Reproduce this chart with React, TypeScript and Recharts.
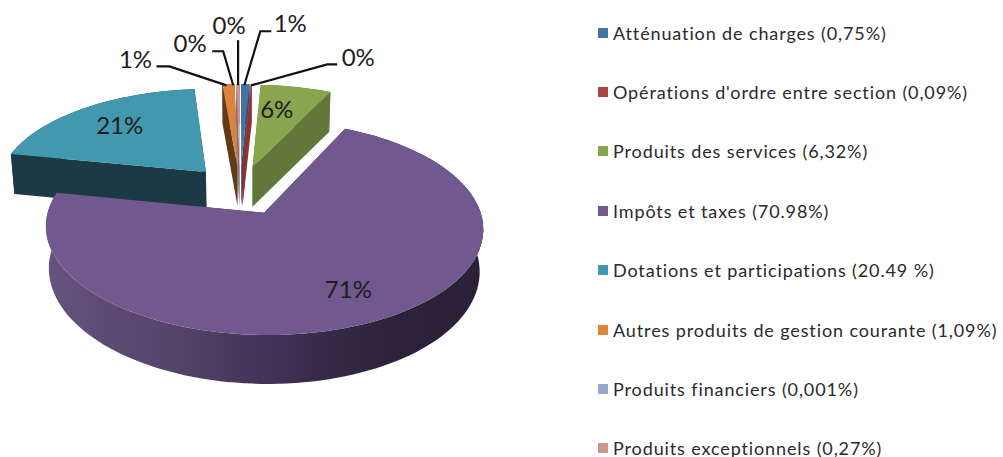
import React from 'react';
import { PieChart, Pie, Legend } from 'recharts';

const categories = [
  "Atténuation de charges (0,75%)",
  "Opérations d'ordre entre section (0,09%)",
  "Produits des services (6,32%)",
  "Impôts et taxes (70.98%)",
  "Dotations et participations (20.49 %)",
  "Autres produits de gestion courante (1,09%)",
  "Produits financiers (0,001%)",
  "Produits exceptionnels (0,27%)",
];
const shares = [0.75, 0.09, 6.32, 70.98, 20.49, 1.09, 0.001, 0.27];
const sliceLabels = ['1%', '0%', '6%', '71%', '21%', '1%', '0%', '0%'];
const topColors = ['#4572A7', '#AA4643', '#89A54E', '#71588F', '#4198AF', '#DB843D', '#93A9CF', '#D19392'];
const sideColors = ['#2c4a6e', '#8a3533', '#62773a', 'url(#purpleWall)', '#1b3a46', '#5f3b1a', '#6a7a96', '#9a6b6a'];

const data = categories.map((name, i) => ({ name, value: shares[i] }));

// 3D view of the pie plane
const PERSPECTIVE = 0.135;
const SQUASH = 0.471;
const EXPLODE = 0.25;
const PURPLE = 3;
const RAD = Math.PI / 180;

type Pt = [number, number];
const project = (cx: number, cy: number, r: number, U: number, V: number): Pt => {
  const s = 1 / (1 - PERSPECTIVE * V);
  return [cx + r * U * s, cy + r * SQUASH * V * s];
};
const planePoint = (mid: number, a: number, f: number): [number, number] => [
  EXPLODE * Math.cos(mid * RAD) + f * Math.cos(a * RAD),
  -EXPLODE * Math.sin(mid * RAD) - f * Math.sin(a * RAD),
];
const dropPoint = (cx: number, cy: number, r: number, U: number, V: number): Pt => {
  const s = 1 / (1 - PERSPECTIVE * V);
  const [x, y] = project(cx, cy, r, U, V);
  return [cx + 3 + (x - cx - 3) * 0.985, y + 40 + Math.max(0, s - 1) * 45];
};
const toPath = (pts: Pt[]) => 'M' + pts.map((p) => `${p[0].toFixed(1)},${p[1].toFixed(1)}`).join('L') + 'Z';

const Slice3D = (props: any) => {
  const { cx, cy, outerRadius: r, startAngle, endAngle, index } = props;
  const mid = (startAngle + endAngle) / 2;
  const steps = Math.max(2, Math.ceil(Math.abs(endAngle - startAngle) / 2));
  const rim: [number, number][] = [];
  for (let i = 0; i <= steps; i++) {
    rim.push(planePoint(mid, startAngle + ((endAngle - startAngle) * i) / steps, 1));
  }
  const apex = planePoint(mid, mid, 0);
  const P = (q: [number, number]) => project(cx, cy, r, q[0], q[1]);
  const D = (q: [number, number]) => dropPoint(cx, cy, r, q[0], q[1]);
  const side = sideColors[index];
  const wall = (a: [number, number], b: [number, number]) => toPath([P(a), P(b), D(b), D(a)]);
  return (
    <g>
      <path d={toPath([...rim.map(P), ...rim.slice().reverse().map(D)])} fill={side} />
      <path d={wall(apex, rim[0])} fill={index === PURPLE ? '#3c2c50' : side} />
      <path d={wall(apex, rim[rim.length - 1])} fill={index === PURPLE ? '#3c2c50' : side} />
      <path d={toPath([P(apex), ...rim.map(P)])} fill={topColors[index]} />
    </g>
  );
};

const BackSlices = (props: any) => (props.index === PURPLE ? <g /> : <Slice3D {...props} />);
const FrontSlice = (props: any) => (props.index === PURPLE ? <Slice3D {...props} /> : <g />);

// inner labels: radial fraction and nudge; outer labels: leader offsets from the rim
const innerLabel: Record<number, { f: number; dx: number; dy: number }> = {
  2: { f: 0.69, dx: -7, dy: -1 },
  3: { f: 0.75, dx: 2, dy: -2 },
  4: { f: 0.7, dx: 1, dy: -2 },
};
const leaders: Record<number, { path: Pt[]; text: Pt }> = {
  0: { path: [[-1, 1], [15, -53], [26, -53]], text: [45, -62] },
  1: { path: [[0, 1], [76, -20], [86, -20]], text: [107, -28] },
  5: { path: [[-2, 1], [-59, -18], [-72, -18]], text: [-93, -26] },
  6: { path: [[-3, 1], [-13, -33], [-24, -33]], text: [-46, -42] },
  7: { path: [[0, 1], [0, -44]], text: [-9, -60] },
};

const SliceLabel = (props: any) => {
  const { cx, cy, outerRadius: r, midAngle, index } = props;
  const textProps = {
    textAnchor: 'middle' as const,
    dominantBaseline: 'central' as const,
    fontFamily: 'Lato, sans-serif',
    fontSize: 24,
    fill: '#1c1c1c',
  };
  const inner = innerLabel[index];
  if (inner) {
    const q = planePoint(midAngle, midAngle, inner.f);
    const [x, y] = project(cx, cy, r, q[0], q[1]);
    return <text x={x + inner.dx} y={y + inner.dy} {...textProps}>{sliceLabels[index]}</text>;
  }
  const q = planePoint(midAngle, midAngle, 1);
  const [x, y] = project(cx, cy, r, q[0], q[1]);
  const l = leaders[index];
  const pts = l.path.map((p) => `${x + p[0]},${y + p[1]}`).join(' ');
  return (
    <g>
      <polyline points={pts} fill="none" stroke="#111" strokeWidth={2.2} />
      <text x={x + l.text[0]} y={y + l.text[1]} {...textProps}>{sliceLabels[index]}</text>
    </g>
  );
};

const LegendList = ({ payload }: any) => {
  const rows = categories.filter((c) => (payload || []).some((p: any) => p.value === c));
  return (
    <div>
      {rows.map((name, i) => (
        <div key={name} style={{ height: 59.4, display: 'flex', alignItems: 'center', whiteSpace: 'nowrap' }}>
          <span style={{ width: 10, height: 10, background: topColors[i], marginRight: 5, flex: 'none' }} />
          <span style={{ fontFamily: 'Lato, sans-serif', fontSize: 18, letterSpacing: 0.88, color: '#2a2a2a' }}>{name}</span>
        </div>
      ))}
    </div>
  );
};

export default function App() {
  return (
    <div style={{ position: 'fixed', left: 0, top: 0, width: 1003, height: 457, overflow: 'hidden', background: '#fff' }}>
      <PieChart width={1003} height={457} margin={{ top: 0, right: 0, bottom: 0, left: 0 }}>
        <defs>
          <linearGradient id="purpleWall" x1="0" y1="0" x2="1" y2="0">
            <stop offset="0" stopColor="#66527f" />
            <stop offset="0.3" stopColor="#544369" />
            <stop offset="0.6" stopColor="#3a2b4e" />
            <stop offset="0.8" stopColor="#2c223a" />
            <stop offset="1" stopColor="#2a2138" />
          </linearGradient>
        </defs>
        <Pie
          data={data}
          dataKey="value"
          nameKey="name"
          cx={240}
          cy={190}
          outerRadius={210}
          startAngle={90}
          endAngle={-270}
          stroke="none"
          shape={BackSlices}
          isAnimationActive={false}
        />
        <Pie
          data={data}
          dataKey="value"
          nameKey="name"
          cx={240}
          cy={190}
          outerRadius={210}
          startAngle={90}
          endAngle={-270}
          stroke="none"
          shape={FrontSlice}
          label={SliceLabel}
          labelLine={false}
          legendType="none"
          isAnimationActive={false}
        />
        <Legend
          layout="vertical"
          align="center"
          verticalAlign="middle"
          itemSorter={null}
          content={LegendList}
          wrapperStyle={{ left: 598, top: 3, width: 405 }}
        />
      </PieChart>
    </div>
  );
}
